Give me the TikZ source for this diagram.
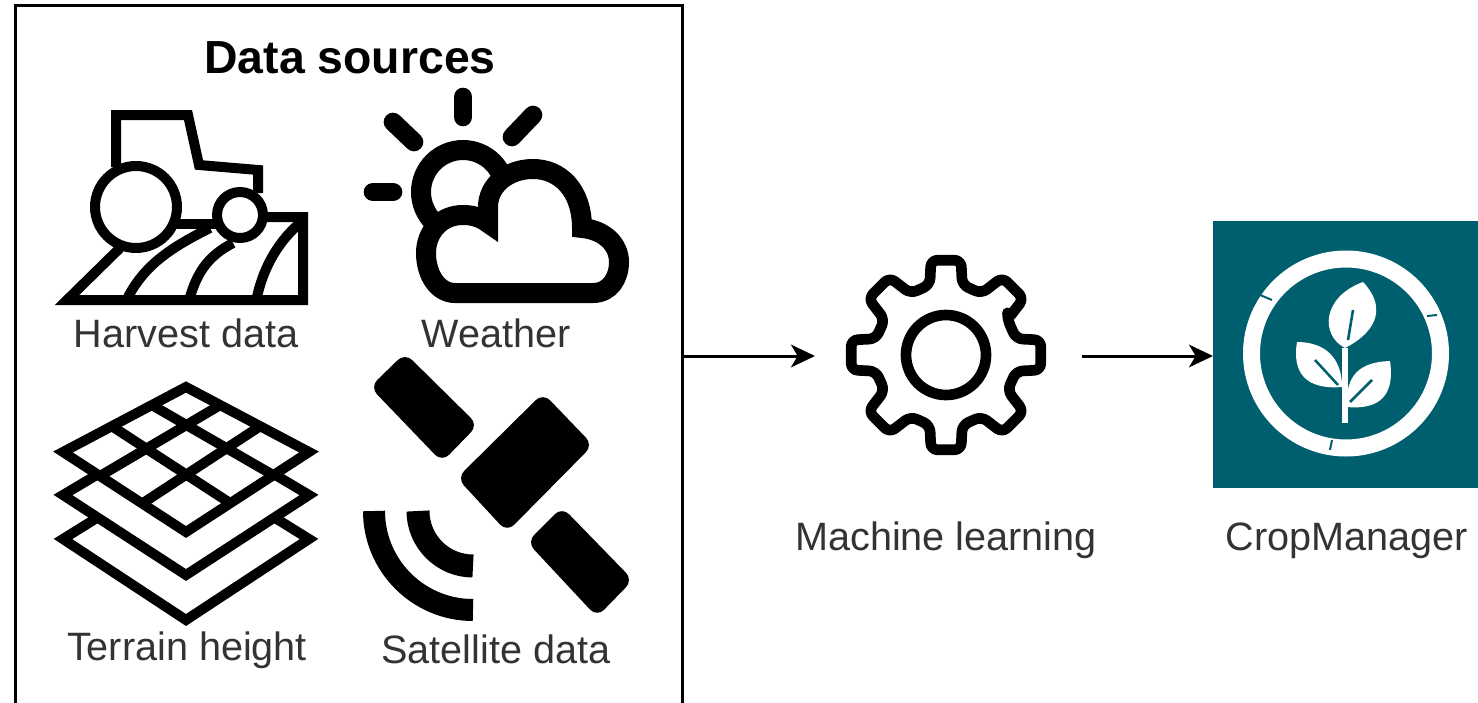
\documentclass[tikz,border=0pt]{standalone}
\usepackage{fontspec}
\setmainfont{Liberation Sans}
\usetikzlibrary{arrows.meta}

\definecolor{cropteal}{HTML}{005F6E}
\definecolor{labelgray}{HTML}{333333}

\tikzset{
  every picture/.style={line width=0.75pt},
  link/.style={line width=2.25pt,-{Stealth[length=18pt,width=17pt,inset=5pt]}},
  caption/.style={anchor=base,inner sep=0pt,text=labelgray,font=\fontsize{29.7}{34}\selectfont},
  heading/.style={anchor=base,inner sep=0pt,font=\bfseries\fontsize{34.8}{40}\selectfont},
  thinicon/.style={line width=7.5pt,line join=miter},
  gearline/.style={line width=8pt,line join=round},
  ray/.style={line width=14pt,line cap=round},
}

\begin{document}
\begin{tikzpicture}[x=0.75pt,y=0.75pt,yscale=-1,xscale=1]

\useasboundingbox (0,0) rectangle (1478,703);

\node (sources) [draw,line width=2.25pt,inner sep=0pt,outer sep=0pt,minimum width=500.25pt,minimum height=526.5pt] at (348.5,356) {};
\node (gear) [inner sep=0pt,outer sep=0pt,minimum width=200.25pt,minimum height=150pt] at (948.5,356) {};
\node (crop) [fill=cropteal,inner sep=0pt,outer sep=0pt,minimum width=199.5pt,minimum height=200.25pt] at (1346,354.5) {};

\draw [link] (sources.east) -- (gear.west) ;
\draw [link] (gear.east) -- (crop.west |- gear.east) ;

\node (title) [heading] at (350,73) {Data sources};
\node (harvest) [caption] at (186,347) {Harvest data};
\node (weather) [caption] at (496,347) {Weather};
\node (terrain) [caption] at (187,660) {Terrain height};
\node (satellite) [caption] at (496,663.5) {Satellite data};
\node (learning) [caption] at (946,550.5) {Machine learning};
\node (manager) [caption] at (1347,550.5) {CropManager};

\draw [thinicon] (116,167) -- (116,115) -- (188,115) -- (199,165) -- (258,170) -- (258,193) ;
\draw [thinicon] (177,224) -- (217,224) ;
\draw [thinicon] (267,217) -- (303,217) -- (303,300) -- (67,300) -- (120,248) ;
\draw [thinicon] (210,228) .. controls (170,248) and (145,265) .. (128,297) ;
\draw [thinicon] (233,243) .. controls (210,255) and (198,270) .. (190,297) ;
\draw [thinicon] (300,223) .. controls (280,240) and (264,265) .. (257,297) ;
\draw [thinicon,fill=white] (136,207) circle [radius=41] ;
\draw [thinicon,fill=white] (240,215) circle [radius=23] ;

\draw [ray] (463,97) -- (463,117) ;
\draw [ray] (393,122) -- (414,142) ;
\draw [ray] (533,115) -- (512,137) ;
\draw [ray] (373,192) -- (393,192) ;
\draw [line width=15pt] (463,192) circle [radius=42] ;
\draw [line width=15pt,line join=miter,fill=white] (455,293) -- (593,293) .. controls (610,293) and (619,278) .. (619,262) .. controls (619,245) and (605,230) .. (582,228) .. controls (582,190) and (560,169) .. (533,169) .. controls (508,169) and (488,185) .. (488,207) -- (488,223) .. controls (480,217) and (472,215) .. (463,215) .. controls (440,215) and (426,233) .. (426,253) .. controls (426,275) and (438,293) .. (455,293) -- cycle ;

\draw [thinicon] (100,516) -- (63,539) -- (186,620) -- (309,539) -- (272,516) ;
\draw [thinicon] (100,473) -- (63,495) -- (186,575) -- (309,495) -- (272,473) ;
\draw [thinicon] (186,387) -- (309,452) -- (186,532) -- (63,452) -- cycle ;
\draw [thinicon] (150,404) -- (273,475) ;
\draw [thinicon] (110,425) -- (230,503) ;
\draw [thinicon] (222,404) -- (100,476) ;
\draw [thinicon] (262,425) -- (143,503) ;

\fill [rounded corners=7.5pt] (405,353) -- (370,387) -- (442,462) -- (478,425) -- cycle ;
\fill [rounded corners=7.5pt] (543,393) -- (593,445) -- (507,532) -- (457,478) -- cycle ;
\fill [rounded corners=7.5pt] (562,507) -- (527,542) -- (597,617) -- (633,580) -- cycle ;
\draw [line width=16.5pt] (374,511) arc [start angle=180,end angle=90,radius=99] ;
\draw [line width=17.25pt] (418,511) arc [start angle=180,end angle=90,radius=55] ;

\begin{scope}[shift={(946,355)}]
\draw [gearline,rounded corners=5pt] (-30:71) \foreach \a in {0,90,180,270} { -- (\a-13:72) -- (\a-9:96) -- (\a+9:96) -- (\a+13:72) -- (\a+30:71) -- (\a+36:96) -- (\a+54:96) -- (\a+60:71) } -- cycle ;
\draw [gearline] (0,0) circle [radius=40] ;
\end{scope}

\draw [white,line width=12.75pt] (1346,353.5) circle [radius=94.5] ;
\draw [cropteal,line width=1.5pt] (1260,295) -- (1272,300) ;
\draw [cropteal,line width=1.5pt] (1427,316) -- (1437,315) ;
\draw [cropteal,line width=1.5pt] (1332,440) -- (1330,450) ;
\fill [white] (1363,282) .. controls (1385,305) and (1380,330) .. (1345,348) .. controls (1320,335) and (1322,297) .. (1363,282) -- cycle ;
\fill [white] (1297,342) .. controls (1325,342) and (1342,358) .. (1342,387) .. controls (1305,390) and (1292,372) .. (1297,342) -- cycle ;
\fill [white] (1390,361) .. controls (1395,395) and (1380,410) .. (1347,407) .. controls (1345,375) and (1360,362) .. (1390,361) -- cycle ;
\draw [white,line width=5pt] (1345,348) -- (1345,423) ;
\draw [cropteal,line width=1.9pt] (1353,310) -- (1348,340) ;
\draw [cropteal,line width=1.9pt] (1315,360) -- (1338,385) ;
\draw [cropteal,line width=1.9pt] (1372,380) -- (1350,402) ;

\end{tikzpicture}
\end{document}
